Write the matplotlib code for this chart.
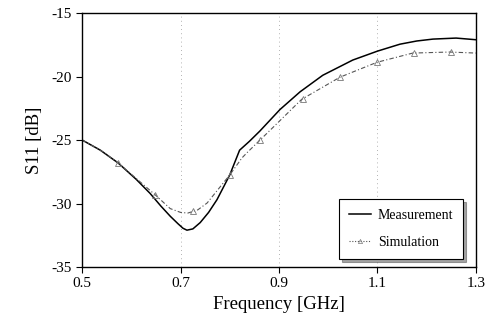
import numpy as np
import matplotlib.pyplot as plt

# values
freq_meas = [0.50, 0.537, 0.573, 0.61, 0.638, 0.66, 0.679, 0.695, 0.705, 0.713, 0.725,
             0.74, 0.757, 0.774, 0.80, 0.82, 0.84, 0.861, 0.902, 0.943, 0.989, 1.05,
             1.10, 1.146, 1.18, 1.213, 1.26, 1.30]
s11_meas = [-25.0, -25.8, -26.8, -28.1, -29.2, -30.2, -31.0, -31.6, -31.95, -32.1, -32.0,
            -31.5, -30.7, -29.7, -27.75, -25.8, -25.1, -24.3, -22.6, -21.2, -19.9, -18.7,
            -18.0, -17.45, -17.2, -17.05, -16.97, -17.1]

freq_sim = [0.50, 0.537, 0.573, 0.648, 0.679, 0.70, 0.715, 0.735, 0.754, 0.80, 0.825,
            0.835, 0.896, 0.946, 1.024, 1.099, 1.172, 1.247, 1.30]
s11_sim = [-25.0, -25.8, -26.8, -29.3, -30.4, -30.7, -30.75, -30.5, -29.96, -27.75, -26.4,
           -26.0, -23.7, -21.8, -20.05, -18.88, -18.15, -18.07, -18.15]

# simulation marker positions
freq_mark = [0.572, 0.648, 0.725, 0.80, 0.862, 0.948, 1.025, 1.10, 1.175, 1.25]

xticks = [0.5, 0.7, 0.9, 1.1, 1.3]
yticks = [-35, -30, -25, -20, -15]

plt.rcParams['font.family'] = ['Liberation Serif', 'DejaVu Serif']

fig = plt.figure(figsize=(4.86, 3.35), dpi=100)
ax = fig.add_axes([0.169, 0.203, 0.81, 0.758])

mark_y = np.interp(freq_mark, freq_sim, s11_sim)
ax.plot(freq_meas, s11_meas, color='black', lw=1.1, label='Measurement')
ax.plot(freq_sim, s11_sim, color='#555555', lw=0.8, ls=(0, (4, 2, 1, 2)))
ax.plot(freq_mark, mark_y, ls='none', marker='^', ms=4, mfc='none', mec='#777777', mew=0.6)
ax.plot([], [], color='#555555', lw=0.8, ls=(0, (1, 1.5)), marker='^', ms=3,
        mfc='none', mec='#777777', mew=0.5, label='Simulation')

ax.set_xlim(0.5, 1.3)
ax.set_ylim(-35, -15)
ax.set_xticks(xticks)
ax.set_yticks(yticks)
ax.set_xticklabels([f'{v:.1f}' for v in xticks])
ax.set_yticklabels([f'{v}' for v in yticks])
ax.tick_params(direction='out', length=4, width=0.8, labelsize=11, color='black')
ax.grid(axis='x', color='#999999', ls=(0, (1, 4)), lw=0.6)

for sp in ax.spines.values():
    sp.set_linewidth(1.0)

ax.set_xlabel('Frequency [GHz]', fontsize=13.5, labelpad=4)
ax.set_ylabel('S11 [dB]', fontsize=13.5, labelpad=6)

leg = ax.legend(loc='lower right', fontsize=10, frameon=True, fancybox=False, shadow=True,
                handlelength=1.6, borderpad=0.7, labelspacing=1.0, handletextpad=0.5,
                bbox_to_anchor=(0.985, 0.005))
leg.get_frame().set_edgecolor('black')
leg.get_frame().set_linewidth(0.8)

fig.savefig('out.png', dpi=100)
